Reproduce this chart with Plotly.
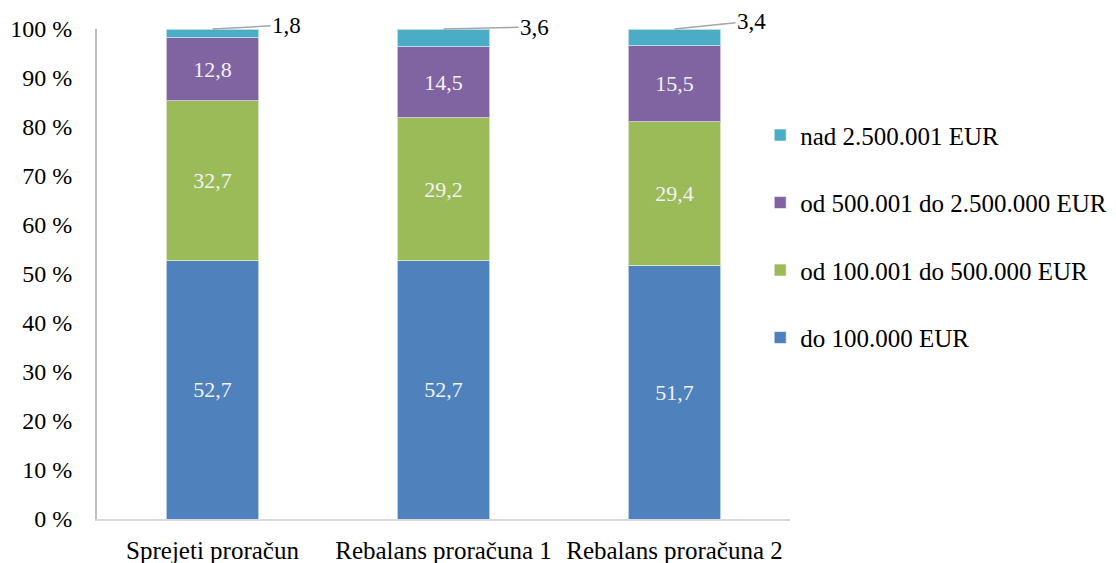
import plotly.graph_objects as go

categories = ["Sprejeti proračun", "Rebalans proračuna 1", "Rebalans proračuna 2"]

series_names = [
    "do 100.000 EUR",
    "od 100.001 do 500.000 EUR",
    "od 500.001 do 2.500.000 EUR",
    "nad 2.500.001 EUR",
]
do_100k = [52.7, 52.7, 51.7]
od_100k_500k = [32.7, 29.2, 29.4]
od_500k_2500k = [12.8, 14.5, 15.5]
nad_2500k = [1.8, 3.6, 3.4]

series_values = [do_100k, od_100k_500k, od_500k_2500k, nad_2500k]
colors = ["#4F81BD", "#9BBB59", "#8064A2", "#4BACC6"]

y_ticks = [0, 10, 20, 30, 40, 50, 60, 70, 80, 90, 100]

FONT = "Liberation Serif"


def fmt(v):
    return f"{v:.1f}".replace(".", ",")


fig = go.Figure()
n = len(series_names)
for i, (name, vals, col) in enumerate(zip(series_names, series_values, colors)):
    inside = i < 3
    fig.add_trace(go.Bar(
        x=categories,
        y=vals,
        name=name,
        legendgroup=f"g{i}",
        legendrank=n - i,
        marker=dict(color=col, line=dict(color="rgba(255,255,255,0.6)", width=1)),
        text=[fmt(v) for v in vals] if inside else None,
        textposition="inside" if inside else "none",
        insidetextanchor="middle",
        textangle=0,
        textfont=dict(family=FONT, size=22, color="#F2F2F2"),
        hoverinfo="skip",
    ))

# labels for the thin top segments, with leader lines
offsets = [(74, -4), (91, -2), (77, -8)]
for cat, vals, off in zip(categories, zip(*series_values), offsets):
    top = sum(vals)
    fig.add_annotation(
        x=cat, y=top, xref="x", yref="y",
        text=fmt(vals[-1]),
        showarrow=True, arrowhead=0, arrowwidth=1.5, arrowcolor="#A6A6A6",
        ax=off[0], ay=off[1], standoff=0,
        font=dict(family=FONT, size=23, color="#000000"),
    )

fig.update_layout(
    barmode="stack",
    bargap=0.6,
    width=1116,
    height=563,
    margin=dict(l=97, r=326, t=29, b=44, autoexpand=False),
    paper_bgcolor="white",
    plot_bgcolor="white",
    font=dict(family=FONT, size=24, color="#000000"),
    legend=dict(
        x=0.957, xanchor="left", y=0.83, yanchor="top",
        traceorder="grouped",
        tracegroupgap=32,
        font=dict(family=FONT, size=25, color="#000000"),
        itemwidth=30,
    ),
    xaxis=dict(
        showline=True, linecolor="#D9D9D9", linewidth=2,
        ticks="", ticklabelstandoff=8, automargin=False,
        tickfont=dict(family=FONT, size=25),
    ),
    yaxis=dict(
        range=[0, 100],
        tickvals=y_ticks,
        ticktext=[f"{t} %" for t in y_ticks],
        showline=True, linecolor="#BFBFBF", linewidth=2,
        showgrid=False, zeroline=False, ticks="",
        ticklabelstandoff=18, automargin=False,
        tickfont=dict(family=FONT, size=24),
    ),
)

fig.write_html("out.html")
